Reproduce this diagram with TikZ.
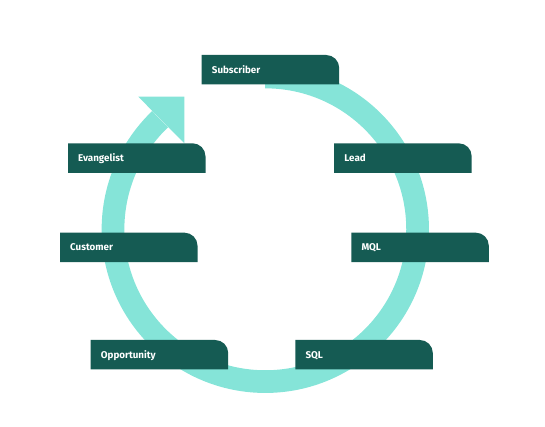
\documentclass[tikz,border=0pt]{standalone}
\usepackage{fontspec}
\setmainfont{Fira Sans}
\definecolor{boxfill}{RGB}{21,91,83}
\definecolor{ringcol}{RGB}{133,228,216}
\newcommand\stagebox[4]{%
  \fill[boxfill] ({#2},{427-#3-29.5}) -- ({#2},{427-#3}) -- ({#2+137.5-13},{427-#3})
    arc[start angle=90, end angle=0, radius=13] -- ({#2+137.5},{427-#3-29.5}) -- cycle;
  \node[stagetext] (#1) at ({#2+10},{427-#3-14.75-3.3}) {#4};
}
\begin{document}
\begin{tikzpicture}[x=1pt,y=1pt,
  stagetext/.style={anchor=base west, inner sep=0pt, text=white, font=\fontsize{9.8}{11}\selectfont\bfseries},
  ringline/.style={draw=ringcol, line width=22.7pt, line cap=butt}]
\useasboundingbox (0,0) rectangle (545,427);
\coordinate (c) at (265.3,197.7);
\draw[ringline] ([shift={(90:152.3)}]c) arc[start angle=90, end angle=-226.3, radius=152.3];
\fill[ringcol] (138.3,330.3) -- (184.3,330.3) -- (184.3,283.7) -- cycle;
\stagebox{sub}{201.7}{55}{Subscriber}
\stagebox{eva}{68}{143.3}{Evangelist}
\stagebox{lead}{334.2}{143.3}{Lead}
\stagebox{cus}{60}{232.7}{Customer}
\stagebox{mql}{351.3}{232.7}{MQL}
\stagebox{opp}{90.7}{340}{Opportunity}
\stagebox{sql}{295.3}{340}{SQL}
\end{tikzpicture}
\end{document}
